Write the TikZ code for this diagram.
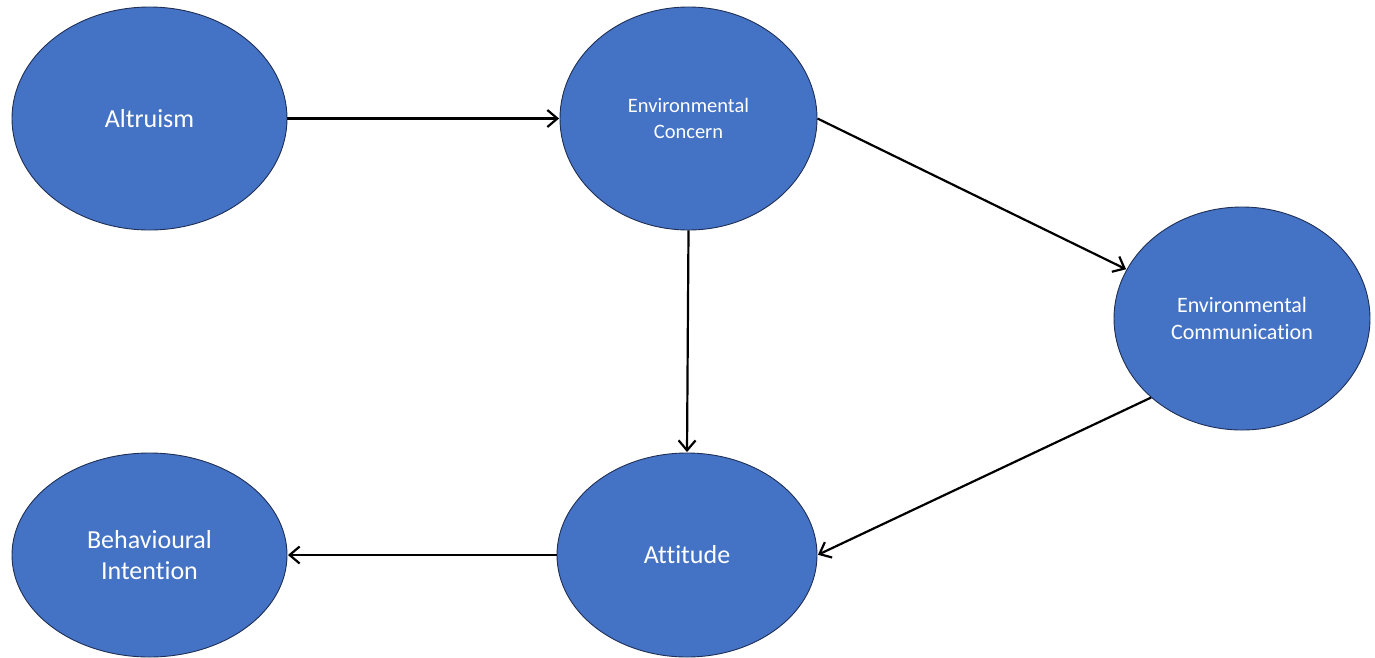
\documentclass[tikz,border=0pt]{standalone}
\usepackage{fontspec}
\setmainfont{Carlito}[Ligatures=NoCommon]
\usetikzlibrary{shapes.geometric,arrows.meta}
\definecolor{fillblue}{HTML}{4472C4}
\definecolor{edgeblue}{HTML}{1F2F55}
\tikzset{
  construct/.style={ellipse, draw=edgeblue, line width=0.9pt, fill=fillblue, inner sep=0pt,
    text=white, align=center},
  bigtext/.style={font=\fontsize{26}{31.5}\selectfont},
  link/.style={line width=2.2pt, -{Straight Barb[length=10pt,width=17pt,line width=2.2pt]}, shorten >=0.5pt}
}
\begin{document}
\begin{tikzpicture}[x=1pt,y=-1pt]
\useasboundingbox (0,0) rectangle (1375,657);
\node[construct, bigtext, minimum width=275pt, minimum height=223pt] (alt) at (149.5,118.5) {Altruism};
\node[construct, font=\fontsize{20.5}{26.5}\selectfont, minimum width=257pt, minimum height=223pt] (ec) at (688.5,118.5) {Environmental\\Concern};
\node[construct, font=\fontsize{22}{27}\selectfont, minimum width=256pt, minimum height=223pt] (ecm) at (1242,318.5) {Environmental\\Communication};
\node[construct, bigtext, minimum width=260pt, minimum height=204pt] (att) at (687,555) {Attitude};
\node[construct, bigtext, minimum width=275pt, minimum height=204pt] (beh) at (149.5,555) {Behavioural\\Intention};
\draw[link] (alt.east) -- (ec.west);
\draw[link] (ec.east) -- (ecm.157);
\draw[link] (ec.south) -- (att.north);
\draw[link] (ecm.221) -- (att.east);
\draw[link] (att.west) -- (beh.east);
\end{tikzpicture}
\end{document}
